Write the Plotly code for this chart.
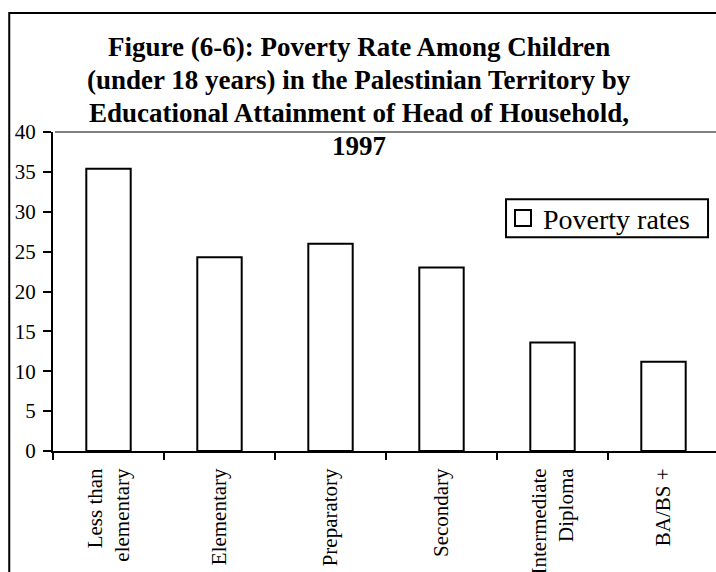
import plotly.graph_objects as go

categories = ["Less than<br>elementary", "Elementary", "Preparatory", "Secondary",
              "Intermediate<br>Diploma", "BA/BS +"]
poverty_rates = [35.4, 24.3, 26.0, 23.0, 13.6, 11.2]
y_ticks = [0, 5, 10, 15, 20, 25, 30, 35, 40]
series_name = "Poverty rates"
title_lines = ["Figure (6-6): Poverty Rate Among Children",
               "(under 18 years) in the Palestinian Territory by",
               "Educational Attainment of Head of Household,",
               "1997"]

FONT = "Liberation Serif, Times New Roman, serif"

fig = go.Figure()
fig.add_trace(go.Bar(
    x=categories, y=poverty_rates, name=series_name,
    marker=dict(color="white", line=dict(color="black", width=2)),
    showlegend=False, legendgroup="pov",
))
# legend entry for the bar series (larger open-square key like the original)
fig.add_trace(go.Scatter(
    x=[None], y=[None], mode="markers", name=series_name, legendgroup="pov",
    marker=dict(symbol="square", size=16, color="white", line=dict(color="black", width=2)),
    showlegend=True, hoverinfo="skip",
))

title_y = [1.3208, 1.2175, 1.1141, 1.0108]
annotations = [dict(
    text="<b>" + line + "</b>",
    xref="paper", yref="paper", x=0.462, y=yy,
    xanchor="center", yanchor="top", showarrow=False,
    font=dict(family=FONT, size=27, color="black"),
) for line, yy in zip(title_lines, title_y)]

fig.update_layout(
    width=716, height=572,
    margin=dict(l=53, r=0, t=132, b=121, pad=0),
    paper_bgcolor="white", plot_bgcolor="white",
    bargap=0.6,
    font=dict(family=FONT, size=21, color="black"),
    showlegend=True,
    legend=dict(
        x=0.6787, y=0.7297, xanchor="left", yanchor="middle",
        bgcolor="rgba(0,0,0,0)", borderwidth=0, itemsizing="trace",
        font=dict(family=FONT, size=28, color="black"),
    ),
    xaxis=dict(
        type="category", range=[-0.5, 5.473],
        showline=True, linecolor="black", linewidth=2,
        ticks="outside", tickson="boundaries", ticklen=7, tickwidth=2, tickcolor="black",
        tickangle=-90, showgrid=False, zeroline=False, automargin=False,
        ticklabelstandoff=7,
        tickfont=dict(family=FONT, size=21, color="black"),
    ),
    yaxis=dict(
        range=[0, 40], tickvals=y_ticks,
        showline=True, linecolor="black", linewidth=2,
        ticks="outside", ticklen=8, tickwidth=2, tickcolor="black",
        showgrid=False, zeroline=False, automargin=False,
        ticklabelstandoff=3,
        tickfont=dict(family=FONT, size=21, color="black"),
    ),
    annotations=annotations,
    shapes=[
        dict(type="line", xref="paper", yref="paper", x0=0.003, x1=1, y0=1, y1=1,
             line=dict(color="#808080", width=2)),
        dict(type="rect", xref="paper", yref="paper", x0=-0.066, x1=1.3, y0=-0.7, y1=1.3727,
             line=dict(color="black", width=2), fillcolor="rgba(0,0,0,0)"),
        dict(type="rect", xref="paper", yref="paper", x0=0.6833, x1=0.988, y0=0.6702, y1=0.789,
             line=dict(color="black", width=2), fillcolor="white", layer="below"),
    ],
)

fig.write_html("out.html", config={"displayModeBar": False},
               post_script="document.body.style.margin='0';document.body.style.overflow='hidden';")
